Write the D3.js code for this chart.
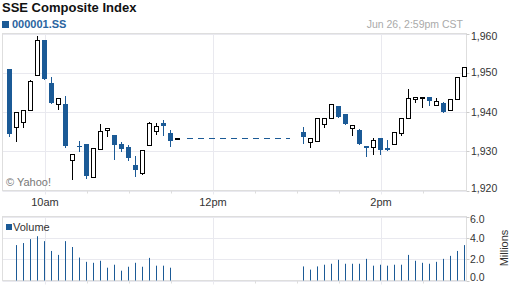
<!DOCTYPE html>
<html>
<head>
<meta charset="utf-8">
<script src="https://cdn.jsdelivr.net/npm/d3@7"></script>
<style>
  body { margin: 0; background: #fff; }
  svg text { font-family: Arial, "Liberation Sans", sans-serif; }
</style>
</head>
<body>
<div id="chart-container"></div>
<script>
// 5-minute candles, morning session then afternoon session
const times = [
  '9:30', '9:35', '9:40', '9:45', '9:50', '9:55', '10:00', '10:05', '10:10', '10:15',
  '10:20', '10:25', '10:30', '10:35', '10:40', '10:45', '10:50', '10:55', '11:00', '11:05',
  '11:10', '11:15', '11:20', '11:25', '11:30',
  '13:00', '13:05', '13:10', '13:15', '13:20', '13:25', '13:30', '13:35', '13:40', '13:45',
  '13:50', '13:55', '14:00', '14:05', '14:10', '14:15', '14:20', '14:25', '14:30', '14:35',
  '14:40', '14:45', '14:50', '14:55'
];
const opens = [
  1951.0, 1936.2, 1937.5, 1940.4, 1949.4, 1958.3, 1947.5, 1942.0, 1942.1, 1927.8,
  1931.3, 1931.9, 1923.5, 1930.6, 1935.4, 1934.2, 1931.9, 1931.1, 1926.4, 1924.4,
  1931.5, 1935.2, 1937.1, 1934.6, 1933.3,
  1935.0, 1932.4, 1932.5, 1937.0, 1938.5, 1941.6, 1939.4, 1935.9, 1935.5, 1931.3,
  1931.0, 1933.4, 1930.9, 1931.9, 1934.7, 1938.5, 1943.3, 1943.5, 1943.8, 1941.9,
  1942.4, 1940.5, 1943.3, 1949.1
];
const highs = [
  1951.0, 1940.1, 1940.6, 1948.2, 1959.4, 1958.3, 1948.8, 1943.6, 1944.2, 1929.3,
  1932.5, 1931.9, 1930.8, 1937.0, 1935.9, 1934.2, 1932.4, 1931.7, 1928.7, 1930.4,
  1937.5, 1937.2, 1938.0, 1935.3, 1933.3,
  1936.3, 1933.4, 1938.5, 1938.5, 1942.1, 1941.6, 1939.4, 1936.8, 1935.7, 1931.3,
  1933.4, 1933.4, 1932.8, 1935.0, 1938.5, 1945.9, 1943.8, 1943.8, 1943.8, 1943.6,
  1942.6, 1943.4, 1948.9, 1951.5
];
const lows = [
  1934.0, 1932.5, 1936.1, 1940.4, 1949.4, 1948.5, 1942.3, 1940.7, 1931.2, 1922.9,
  1930.0, 1923.2, 1923.5, 1930.6, 1933.9, 1928.1, 1930.0, 1927.7, 1923.6, 1924.2,
  1931.5, 1934.4, 1934.1, 1931.3, 1933.3,
  1932.0, 1931.0, 1932.5, 1936.2, 1938.5, 1938.7, 1936.9, 1934.1, 1931.8, 1928.9,
  1929.2, 1929.2, 1930.4, 1931.9, 1934.1, 1938.5, 1942.5, 1941.3, 1941.8, 1941.9,
  1940.0, 1940.5, 1943.3, 1949.1
];
const closes = [
  1934.5, 1940.1, 1940.6, 1948.0, 1958.4, 1948.5, 1942.3, 1943.6, 1931.4, 1929.3,
  1931.1, 1923.8, 1930.8, 1935.2, 1935.9, 1931.5, 1930.7, 1928.2, 1925.2, 1930.4,
  1937.2, 1936.5, 1936.5, 1932.5, 1933.3,
  1933.6, 1933.4, 1938.5, 1938.5, 1942.1, 1938.7, 1936.9, 1936.8, 1931.8, 1930.9,
  1932.8, 1930.4, 1930.4, 1935.0, 1938.5, 1943.6, 1943.8, 1943.8, 1942.9, 1942.8,
  1940.0, 1943.4, 1948.9, 1951.5
];
// volume in millions
const volumes = [
  0, 3.32, 3.51, 3.88, 4.15, 3.69, 2.77, 2.40, 3.69, 3.14,
  2.15, 1.75, 1.66, 1.85, 1.20, 1.48, 0.92, 1.29, 1.66, 1.29,
  2.12, 1.39, 1.39, 1.20, 0,
  1.32, 1.02, 1.32, 1.48, 1.57, 1.94, 1.57, 1.57, 1.57, 2.03,
  1.39, 1.48, 1.39, 1.48, 1.48, 2.40, 1.85, 1.66, 1.57, 1.75,
  2.03, 2.31, 2.77, 3.32
];
const priceTicks = [1920, 1930, 1940, 1950, 1960];
const volumeTicks = [0, 2, 4, 6];
const hourTicks = ['10:00', '12:00', '14:00'];
const hourLabels = ['10am', '12pm', '2pm'];
const halfHourTicks = ['10:30', '11:00', '11:30', '12:30', '13:00', '13:30', '14:30'];
const lunchBreak = ['11:30', '13:00'];

const BLUE = '#1b5a96';
const width = 512, height = 288;

const toMin = s => { const [h, m] = s.split(':').map(Number); return h * 60 + m; };

const svg = d3.select('div#chart-container')
  .append('svg')
  .attr('width', width)
  .attr('height', height);

const plot = {left: 2.5, right: 466.5, top: 33.5, bottom: 190.5};
const vol = {top: 216.5, bottom: 280.5};

const xScale = d3.scaleLinear()
  .domain([toMin('10:00'), toMin('14:00')])
  .range([45, 381]);
// candles sit a few minutes right of their start time
const cx = t => Math.round(xScale(toMin(t) + 4));

const yScale = d3.scaleLinear()
  .domain([1920, 1960])
  .range([plot.bottom, plot.top]);
const vScale = d3.scaleLinear()
  .domain([0, 6])
  .range([vol.bottom, vol.top]);
const py = v => Math.round(yScale(v));

// Header
svg.append('text')
  .attr('x', 2).attr('y', 12)
  .style('font-size', '13px').style('font-weight', 'bold').attr('fill', '#111')
  .text('SSE Composite Index');
svg.append('rect')
  .attr('x', 2).attr('y', 21).attr('width', 7).attr('height', 7).attr('fill', BLUE);
svg.append('text')
  .attr('x', 12).attr('y', 28)
  .style('font-size', '11px').style('font-weight', 'bold').attr('fill', '#2a64a0')
  .text('000001.SS');
svg.append('text')
  .attr('x', 463).attr('y', 28).attr('text-anchor', 'end')
  .style('font-size', '10.5px').attr('fill', '#aaa')
  .text('Jun 26, 2:59pm CST');

// Panels: grid, frame, ticks
const drawFrame = (top, bottom, gridVals, scale) => {
  const g = svg.append('g');
  g.selectAll('line.hgrid')
    .data(gridVals)
    .enter().append('line')
    .attr('x1', plot.left).attr('x2', plot.right)
    .attr('y1', d => Math.round(scale(d)) + 0.5)
    .attr('y2', d => Math.round(scale(d)) + 0.5)
    .attr('stroke', '#e9e9ef');
  g.selectAll('line.vgrid')
    .data(hourTicks)
    .enter().append('line')
    .attr('x1', d => Math.round(xScale(toMin(d))) + 0.5)
    .attr('x2', d => Math.round(xScale(toMin(d))) + 0.5)
    .attr('y1', top).attr('y2', bottom + 4)
    .attr('stroke', '#e9e9ef');
  g.selectAll('line.tick')
    .data(halfHourTicks)
    .enter().append('line')
    .attr('x1', d => Math.round(xScale(toMin(d))) + 0.5)
    .attr('x2', d => Math.round(xScale(toMin(d))) + 0.5)
    .attr('y1', bottom).attr('y2', bottom + 3)
    .attr('stroke', '#ddd');
  g.append('rect')
    .attr('x', plot.left).attr('y', top)
    .attr('width', plot.right - plot.left).attr('height', bottom - top)
    .attr('fill', 'none').attr('stroke', '#dedede');
  g.selectAll('line.ytick')
    .data(gridVals)
    .enter().append('line')
    .attr('x1', plot.right).attr('x2', plot.right + 3)
    .attr('y1', d => Math.round(scale(d)) + 0.5)
    .attr('y2', d => Math.round(scale(d)) + 0.5)
    .attr('stroke', '#ccc');
};
drawFrame(plot.top, plot.bottom, priceTicks, yScale);
drawFrame(vol.top, vol.bottom, volumeTicks, vScale);

// Right axis labels, clamped inside the panel
svg.selectAll('text.ylab')
  .data(priceTicks)
  .enter().append('text')
  .attr('x', 471)
  .attr('y', d => Math.min(Math.max(yScale(d), 36), 188))
  .attr('dy', '0.35em')
  .style('font-size', '10.5px').attr('fill', '#333')
  .text(d3.format(','));
svg.selectAll('text.vlab')
  .data(volumeTicks)
  .enter().append('text')
  .attr('x', 470)
  .attr('y', d => Math.min(Math.max(vScale(d), 219.5), 277))
  .attr('dy', '0.35em')
  .style('font-size', '10.5px').attr('fill', '#333')
  .text(d3.format('.1f'));
svg.append('text')
  .attr('transform', 'translate(508, 248) rotate(-90)')
  .attr('text-anchor', 'middle')
  .style('font-size', '11px').attr('fill', '#333')
  .text('Millions');

// Bottom time labels
svg.selectAll('text.xlab')
  .data(hourTicks)
  .enter().append('text')
  .attr('x', d => xScale(toMin(d)))
  .attr('y', 206)
  .attr('text-anchor', 'middle')
  .style('font-size', '11px').attr('fill', '#333')
  .text((_, i) => hourLabels[i]);

svg.append('text')
  .attr('x', 6).attr('y', 186)
  .style('font-size', '11px').attr('fill', '#777')
  .text('\u00a9 Yahoo!');

// Lunch break: dashed line at the morning close
const lastMorning = times.indexOf(lunchBreak[0]);
svg.append('line')
  .attr('x1', cx(lunchBreak[0]) + 10)
  .attr('x2', cx(lunchBreak[1]) - 13)
  .attr('y1', py(closes[lastMorning]) + 0.5)
  .attr('y2', py(closes[lastMorning]) + 0.5)
  .attr('stroke', BLUE)
  .attr('stroke-dasharray', '6,5');

// Candles: blue filled when down, hollow black when up
const candles = times.map((t, i) => ({
  t, o: opens[i], h: highs[i], l: lows[i], c: closes[i], v: volumes[i]
}));
const isDown = d => d.c < d.o;
const cg = svg.append('g');
cg.selectAll('line.wick')
  .data(candles)
  .enter().append('line')
  .attr('x1', d => cx(d.t) + 0.5).attr('x2', d => cx(d.t) + 0.5)
  .attr('y1', d => py(d.h)).attr('y2', d => py(d.l) + 1)
  .attr('stroke', d => isDown(d) ? BLUE : '#000');
cg.selectAll('rect.down')
  .data(candles.filter(isDown))
  .enter().append('rect')
  .attr('x', d => cx(d.t) - 2)
  .attr('width', 5)
  .attr('y', d => py(d.o))
  .attr('height', d => Math.max(1, py(d.c) - py(d.o)))
  .attr('fill', BLUE);
cg.selectAll('rect.up')
  .data(candles.filter(d => !isDown(d)))
  .enter().append('rect')
  .attr('x', d => cx(d.t) - 1.5)
  .attr('width', 4)
  .attr('y', d => py(d.c) + 0.5)
  .attr('height', d => Math.max(1, py(d.o) - py(d.c)))
  .attr('fill', '#fff')
  .attr('stroke', '#000');

// Volume panel
svg.append('rect')
  .attr('x', 6).attr('y', 224).attr('width', 6).attr('height', 6).attr('fill', BLUE);
svg.append('text')
  .attr('x', 13).attr('y', 231)
  .style('font-size', '11px').attr('fill', '#333')
  .text('Volume');
svg.selectAll('rect.vol')
  .data(candles.filter(d => d.v > 0))
  .enter().append('rect')
  .attr('x', d => cx(d.t))
  .attr('width', 1)
  .attr('y', d => vScale(d.v))
  .attr('height', d => vol.bottom - vScale(d.v))
  .attr('fill', BLUE);
</script>
</body>
</html>
